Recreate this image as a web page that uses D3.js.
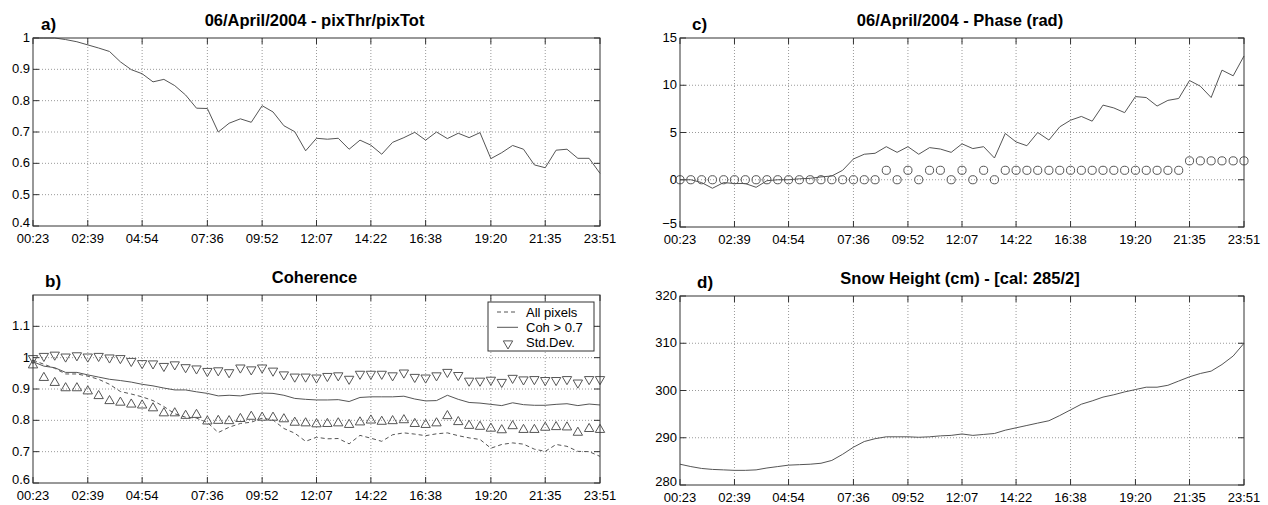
<!DOCTYPE html>
<html>
<head>
<meta charset="utf-8">
<title>06/April/2004</title>
<script src="https://cdn.jsdelivr.net/npm/d3@7"></script>
<style>
body, html {
  margin: 0;
  background: #fff;
}
svg {
  display: block;
  font-family: "Liberation Sans", Arial, sans-serif;
}
.grid line {
  stroke: #9a9a9a;
  stroke-width: 1px;
  stroke-dasharray: 1,2;
}
.frame {
  fill: none;
  stroke: #333;
  stroke-width: 1px;
}
.tick-mark {
  stroke: #333;
  stroke-width: 1px;
}
.tlabel {
  font-size: 13px;
  fill: #000;
}
.title {
  font-size: 16.5px;
  font-weight: bold;
}
.letter {
  font-size: 17px;
  font-weight: bold;
}
.series {
  fill: none;
  stroke: #555;
  stroke-width: 1px;
}
.marker {
  fill: none;
  stroke: #555;
  stroke-width: 1px;
}
</style>
</head>
<body>
<script>
// acquisition times (one sample about every 27 min)
var times = ["00:23","00:50","01:17","01:44","02:12","02:39","03:06","03:33","04:00","04:27",
  "04:54","05:21","05:48","06:15","06:42","07:09","07:36","08:03","08:30","08:58",
  "09:25","09:52","10:19","10:46","11:13","11:40","12:07","12:34","13:01","13:28",
  "13:55","14:22","14:49","15:16","15:44","16:11","16:38","17:05","17:32","17:59",
  "18:26","18:53","19:20","19:47","20:14","20:41","21:08","21:35","22:02","22:29",
  "22:56","23:24","23:51"];
var tickTimes = ["00:23","02:39","04:54","07:36","09:52","12:07","14:22","16:38","19:20","21:35","23:51"];

// a) pixThr/pixTot
var pixRatio = [1.0, 1.0, 1.0, 0.995, 0.988, 0.978, 0.968, 0.957, 0.924, 0.899,
  0.886, 0.860, 0.868, 0.848, 0.818, 0.776, 0.775, 0.700, 0.728, 0.742,
  0.731, 0.784, 0.764, 0.720, 0.701, 0.640, 0.680, 0.677, 0.680, 0.645,
  0.674, 0.658, 0.629, 0.667, 0.682, 0.699, 0.674, 0.700, 0.679, 0.696,
  0.682, 0.698, 0.615, 0.634, 0.657, 0.645, 0.595, 0.586, 0.642, 0.645,
  0.616, 0.616, 0.568];

// b) coherence
var cohAll = [0.992, 0.979, 0.966, 0.948, 0.948, 0.941, 0.931, 0.915, 0.892, 0.884,
  0.875, 0.863, 0.844, 0.821, 0.810, 0.807, 0.793, 0.761, 0.778, 0.790,
  0.794, 0.807, 0.801, 0.774, 0.759, 0.733, 0.746, 0.741, 0.742, 0.725,
  0.752, 0.743, 0.733, 0.754, 0.760, 0.756, 0.751, 0.757, 0.760, 0.751,
  0.744, 0.739, 0.711, 0.723, 0.728, 0.724, 0.708, 0.701, 0.723, 0.717,
  0.701, 0.700, 0.685];
var cohThr = [0.987, 0.973, 0.968, 0.953, 0.953, 0.945, 0.938, 0.931, 0.927, 0.922,
  0.915, 0.910, 0.903, 0.897, 0.897, 0.891, 0.886, 0.878, 0.880, 0.878,
  0.884, 0.887, 0.886, 0.880, 0.870, 0.867, 0.865, 0.865, 0.866, 0.860,
  0.873, 0.875, 0.875, 0.875, 0.877, 0.868, 0.862, 0.863, 0.880, 0.867,
  0.857, 0.855, 0.851, 0.847, 0.856, 0.850, 0.848, 0.848, 0.851, 0.853,
  0.847, 0.852, 0.849];
var stdUpper = [0.998, 1.005, 1.009, 1.003, 1.007, 1.003, 1.005, 1.000, 0.998, 0.989,
  0.982, 0.981, 0.973, 0.978, 0.969, 0.965, 0.957, 0.959, 0.953, 0.968,
  0.962, 0.968, 0.958, 0.946, 0.939, 0.939, 0.936, 0.941, 0.943, 0.932,
  0.948, 0.948, 0.948, 0.943, 0.952, 0.938, 0.936, 0.943, 0.954, 0.944,
  0.926, 0.926, 0.929, 0.922, 0.935, 0.930, 0.931, 0.928, 0.928, 0.931,
  0.920, 0.931, 0.931];
var stdLower = [0.976, 0.936, 0.920, 0.903, 0.903, 0.893, 0.878, 0.862, 0.857, 0.851,
  0.848, 0.839, 0.823, 0.823, 0.815, 0.818, 0.797, 0.799, 0.798, 0.805,
  0.812, 0.809, 0.809, 0.804, 0.793, 0.791, 0.788, 0.789, 0.791, 0.786,
  0.794, 0.800, 0.796, 0.798, 0.801, 0.789, 0.786, 0.791, 0.814, 0.795,
  0.783, 0.780, 0.774, 0.769, 0.782, 0.770, 0.770, 0.777, 0.779, 0.778,
  0.761, 0.773, 0.770];

// c) phase (rad) and wrap count
var phase = [0, 0, -0.3, -0.9, -0.3, -0.4, -0.4, -0.8, -0.1, 0,
  0, 0.1, 0.15, 0.3, 0.4, 1.0, 2.2, 2.7, 2.8, 3.5,
  2.9, 3.5, 2.7, 3.4, 3.25, 2.9, 3.8, 3.3, 3.5, 2.3,
  4.9, 4.0, 3.6, 5.0, 4.2, 5.6, 6.3, 6.7, 6.2, 7.9,
  7.6, 7.1, 8.8, 8.7, 7.8, 8.4, 8.6, 10.5, 9.9, 8.7,
  11.6, 11.0, 13.1];
var phaseWraps = [0, 0, 0, 0, 0, 0, 0, 0, 0, 0,
  0, 0, 0, 0, 0, 0, 0, 0, 0, 1,
  0, 1, 0, 1, 1, 0, 1, 0, 1, 0,
  1, 1, 1, 1, 1, 1, 1, 1, 1, 1,
  1, 1, 1, 1, 1, 1, 1, 2, 2, 2,
  2, 2, 2];

// d) snow height (cm)
var snowHeight = [284.4, 283.9, 283.5, 283.3, 283.2, 283.1, 283.1, 283.2, 283.6, 283.9,
  284.2, 284.3, 284.4, 284.6, 285.2, 286.5, 288.0, 289.2, 289.8, 290.2,
  290.2, 290.2, 290.1, 290.2, 290.4, 290.5, 290.8, 290.5, 290.7, 290.9,
  291.6, 292.1, 292.6, 293.1, 293.6, 294.7, 295.9, 297.1, 297.8, 298.6,
  299.1, 299.7, 300.2, 300.7, 300.7, 301.1, 302.0, 302.9, 303.6, 304.1,
  305.5, 307.3, 310.0];

function toMin(t) {
  var p = t.split(":");
  return +p[0] * 60 + +p[1];
}
var minutes = times.map(toMin);

var svg = d3.select("body").append("svg")
  .attr("width", 1268)
  .attr("height", 505);

// draws the axes box, grid, ticks, labels; returns scales
function panel(o) {
  var x = d3.scaleLinear().domain([toMin(times[0]), toMin(times[times.length - 1])]).range([o.left, o.right]);
  var y = d3.scaleLinear().domain(o.yDomain).range([o.bottom, o.top]);
  var g = svg.append("g");
  var tickLen = 6;

  var grid = g.append("g").attr("class", "grid");
  grid.selectAll(".gx").data(tickTimes.slice(1, -1)).enter().append("line")
    .attr("x1", function(d) { return x(toMin(d)); })
    .attr("x2", function(d) { return x(toMin(d)); })
    .attr("y1", o.top).attr("y2", o.bottom);
  grid.selectAll(".gy").data(o.yTicks.filter(function(v) { return v > o.yDomain[0] && v < o.yDomain[1]; }))
    .enter().append("line")
    .attr("x1", o.left).attr("x2", o.right)
    .attr("y1", function(d) { return y(d); })
    .attr("y2", function(d) { return y(d); });

  // inward ticks on all four sides
  tickTimes.forEach(function(t) {
    var xx = x(toMin(t));
    g.append("line").attr("class", "tick-mark").attr("x1", xx).attr("x2", xx).attr("y1", o.bottom).attr("y2", o.bottom - tickLen);
    g.append("line").attr("class", "tick-mark").attr("x1", xx).attr("x2", xx).attr("y1", o.top).attr("y2", o.top + tickLen);
  });
  o.yTicks.forEach(function(v) {
    var yy = y(v);
    g.append("line").attr("class", "tick-mark").attr("x1", o.left).attr("x2", o.left + tickLen).attr("y1", yy).attr("y2", yy);
    g.append("line").attr("class", "tick-mark").attr("x1", o.right).attr("x2", o.right - tickLen).attr("y1", yy).attr("y2", yy);
  });

  g.selectAll(".xl").data(tickTimes).enter().append("text")
    .attr("class", "tlabel")
    .attr("text-anchor", "middle")
    .attr("x", function(d) { return x(toMin(d)); })
    .attr("y", o.bottom + 17)
    .text(function(d) { return d; });
  // lowest label sits a little higher so it clears the time labels
  g.selectAll(".yl").data(o.yTicks).enter().append("text")
    .attr("class", "tlabel")
    .attr("text-anchor", "end")
    .attr("x", o.left - 3)
    .attr("y", function(d, i) { return y(d) + (i === 0 ? 1 : 4); })
    .text(function(d) { return d3.format("~g")(d); });

  g.append("text").attr("class", "title")
    .attr("text-anchor", "middle")
    .attr("x", (o.left + o.right) / 2 - 2)
    .attr("y", o.top - 12)
    .text(o.title);
  g.append("text").attr("class", "letter")
    .attr("x", o.letterX)
    .attr("y", o.top - 8)
    .text(o.letter);

  var data = g.append("g");
  g.append("rect").attr("class", "frame")
    .attr("x", o.left).attr("y", o.top)
    .attr("width", o.right - o.left).attr("height", o.bottom - o.top);

  return { x: x, y: y, g: data };
}

function drawLine(p, values, dash) {
  var line = d3.line()
    .x(function(d, i) { return p.x(minutes[i]); })
    .y(function(d) { return p.y(d); });
  p.g.append("path").datum(values)
    .attr("class", "series")
    .attr("stroke-dasharray", dash || null)
    .attr("d", line);
}

function drawMarkers(p, values, type, rotate) {
  var sym = d3.symbol().type(type).size(type === d3.symbolCircle ? 52 : 38);
  p.g.selectAll(null).data(values).enter().append("path")
    .attr("class", "marker")
    .attr("transform", function(d, i) {
      return "translate(" + p.x(minutes[i]) + "," + p.y(d) + ")" + (rotate ? " rotate(180)" : "");
    })
    .attr("d", sym);
}

// a)
var pa = panel({ left: 33, right: 600, top: 38, bottom: 226, yDomain: [0.4, 1],
  yTicks: [0.4, 0.5, 0.6, 0.7, 0.8, 0.9, 1],
  title: "06/April/2004 - pixThr/pixTot", letter: "a)", letterX: 41 });
drawLine(pa, pixRatio);

// b)
var pb = panel({ left: 33, right: 600, top: 295, bottom: 483, yDomain: [0.6, 1.2],
  yTicks: [0.6, 0.7, 0.8, 0.9, 1, 1.1],
  title: "Coherence", letter: "b)", letterX: 45 });
drawLine(pb, cohAll, "4,3");
drawLine(pb, cohThr);
drawMarkers(pb, stdUpper, d3.symbolTriangle, true);
drawMarkers(pb, stdLower, d3.symbolTriangle, false);

// legend
var lg = pb.g.append("g").attr("transform", "translate(488,302)");
lg.append("rect").attr("width", 106).attr("height", 49)
  .attr("fill", "#fff").attr("stroke", "#333");
var legendItems = [
  { label: "All pixels", dash: "4,3" },
  { label: "Coh > 0.7", dash: null },
  { label: "Std.Dev.", marker: true }
];
legendItems.forEach(function(it, i) {
  var yy = 10 + i * 15.3;
  if (it.marker) {
    lg.append("path").attr("class", "marker")
      .attr("transform", "translate(20," + (yy + 1) + ") rotate(180)")
      .attr("d", d3.symbol().type(d3.symbolTriangle).size(38));
  } else {
    lg.append("line").attr("class", "series")
      .attr("x1", 9).attr("x2", 30).attr("y1", yy).attr("y2", yy)
      .attr("stroke-dasharray", it.dash);
  }
  lg.append("text").attr("class", "tlabel")
    .attr("x", 38).attr("y", yy + 4.5)
    .text(it.label);
});

// c)
var pc = panel({ left: 680, right: 1244, top: 38, bottom: 227, yDomain: [-5, 15],
  yTicks: [-5, 0, 5, 10, 15],
  title: "06/April/2004 - Phase (rad)", letter: "c)", letterX: 692 });
drawLine(pc, phase);
drawMarkers(pc, phaseWraps, d3.symbolCircle, false);

// d)
var pd = panel({ left: 680, right: 1244, top: 296, bottom: 485, yDomain: [280, 320],
  yTicks: [280, 290, 300, 310, 320],
  title: "Snow Height (cm) - [cal: 285/2]", letter: "d)", letterX: 697 });
drawLine(pd, snowHeight);
</script>
</body>
</html>
